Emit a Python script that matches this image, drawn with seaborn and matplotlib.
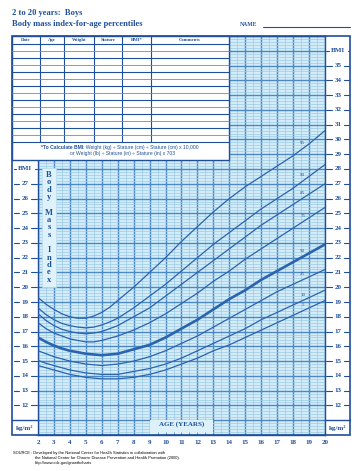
import numpy as np
import pandas as pd
import seaborn as sns
import matplotlib.pyplot as plt
from matplotlib.patches import Rectangle
from matplotlib.ticker import MultipleLocator
from matplotlib.transforms import blended_transform_factory

# CDC BMI-for-age, boys
ages = [2, 2.5, 3, 3.5, 4, 4.5, 5, 5.5, 6, 6.5, 7, 7.5, 8, 9, 10, 11, 12, 13, 14, 15, 16, 17, 18, 19, 20]
p5 = [14.7, 14.55, 14.4, 14.25, 14.1, 14.0, 13.9, 13.85, 13.8, 13.8, 13.8, 13.85, 13.9,
      14.1, 14.4, 14.8, 15.2, 15.7, 16.1, 16.6, 17.1, 17.6, 18.1, 18.6, 19.1]
p10 = [15.05, 14.85, 14.7, 14.55, 14.4, 14.3, 14.2, 14.15, 14.1, 14.1, 14.1, 14.2, 14.3,
       14.5, 14.8, 15.2, 15.7, 16.2, 16.7, 17.2, 17.8, 18.3, 18.8, 19.3, 19.8]
p25 = [15.7, 15.5, 15.3, 15.15, 15.0, 14.9, 14.8, 14.75, 14.7, 14.75, 14.8, 14.9, 15.0,
       15.3, 15.7, 16.2, 16.7, 17.3, 17.9, 18.5, 19.1, 19.7, 20.2, 20.7, 21.2]
p50 = [16.6, 16.3, 16.05, 15.85, 15.7, 15.6, 15.5, 15.45, 15.4, 15.45, 15.5, 15.65, 15.8,
       16.1, 16.6, 17.2, 17.8, 18.5, 19.2, 19.8, 20.5, 21.1, 21.7, 22.3, 22.9]
p75 = [17.6, 17.2, 16.9, 16.7, 16.5, 16.4, 16.3, 16.3, 16.4, 16.55, 16.7, 16.9, 17.1,
       17.6, 18.2, 18.9, 19.6, 20.4, 21.1, 21.9, 22.6, 23.3, 24.0, 24.7, 25.4]
p85 = [18.2, 17.75, 17.4, 17.15, 17.0, 16.9, 16.85, 16.9, 17.0, 17.2, 17.4, 17.7, 18.0,
       18.6, 19.4, 20.2, 21.0, 21.8, 22.6, 23.4, 24.2, 24.9, 25.6, 26.3, 27.0]
p90 = [18.6, 18.15, 17.8, 17.55, 17.4, 17.3, 17.25, 17.3, 17.45, 17.65, 17.9, 18.25, 18.6,
       19.4, 20.2, 21.1, 22.0, 22.9, 23.7, 24.5, 25.3, 26.0, 26.7, 27.5, 28.3]
p95 = [19.3, 18.85, 18.5, 18.2, 18.0, 17.9, 17.9, 18.05, 18.3, 18.65, 19.1, 19.55, 20.0,
       21.0, 22.0, 23.1, 24.1, 25.1, 26.0, 26.8, 27.5, 28.2, 28.9, 29.7, 30.6]
pct_names = ['5', '10', '25', '50', '75', '85', '90', '95']
year_ticks = list(range(2, 21))
left_labels = list(range(12, 28))
right_labels = list(range(12, 36))
table_cols = ['Date', 'Age', 'Weight', 'Stature', 'BMI*', 'Comments']

BLUE = '#1f4f9a'
LINE = '#2a64ae'
BG = '#d3ecf7'
MAJOR = '#4a88c6'
MINOR = '#9ccbe8'
SERIF = 'Liberation Serif'
SANS = 'Liberation Sans'

sns.set_style('white')
plt.rcParams['font.family'] = ['Liberation Serif', 'DejaVu Sans']

W, H = 363, 471
fig = plt.figure(figsize=(W / 100, H / 100), dpi=100)
fig.patch.set_facecolor('white')


def frac(x0, y0, x1, y1):
    return [x0 / W, 1 - y1 / H, (x1 - x0) / W, (y1 - y0) / H]


# grid chart
ax = fig.add_axes(frac(38, 36, 325, 435))
ax.set_facecolor(BG)
ax.set_xlim(2, 20)
ax.set_ylim(10, 37)
ax.xaxis.set_major_locator(MultipleLocator(1))
ax.xaxis.set_minor_locator(MultipleLocator(0.5))
ax.yaxis.set_major_locator(MultipleLocator(1))
ax.yaxis.set_minor_locator(MultipleLocator(0.2))
ax.set_axisbelow(True)

series = [p5, p10, p25, p50, p75, p85, p90, p95]
df = pd.DataFrame({'age': ages * len(series),
                   'bmi': sum(series, []),
                   'pct': [n for n in pct_names for _ in ages]})
for name in pct_names:
    sub = df[df['pct'] == name]
    sns.lineplot(data=sub, x='age', y='bmi', ax=ax, color=LINE,
                 lw=1.9 if name == '50' else 0.9, legend=False, zorder=3)
    yl = np.interp(18.6, ages, sub['bmi'].values)
    ax.text(18.6, yl + 0.25, name, fontsize=3.6, color=BLUE, ha='center', va='bottom', zorder=4)

ax.grid(which='minor', color=MINOR, lw=0.5)
ax.grid(which='major', color=MAJOR, lw=1.0)
ax.tick_params(which='both', length=0)
ax.set_xticks(year_ticks)
ax.set_xticklabels([str(a) for a in year_ticks], fontfamily=SERIF, fontweight='bold', fontsize=5, color=BLUE)
ax.tick_params(axis='x', pad=3.8)
ax.set_yticklabels([])
ax.set_xlabel('')
ax.set_ylabel('')
for sp in ax.spines.values():
    sp.set_color(BLUE)
    sp.set_linewidth(1.0)

# Body Mass Index box
ax.add_patch(Rectangle((2.25, 20.0), 0.88, 8.1, fc='#dff2fa', ec='#b8dcef', lw=0.5, zorder=2))
letters = [('B', 27.6), ('o', 27.1), ('d', 26.6), ('y', 26.1),
           ('M', 25.05), ('a', 24.55), ('s', 24.05), ('s', 23.55),
           ('I', 22.5), ('n', 22.0), ('d', 21.5), ('e', 21.0), ('x', 20.5)]
for ch, yy in letters:
    ax.text(2.69, yy, ch, fontsize=6, fontweight='bold', color=BLUE, ha='center', va='center', zorder=3)

# AGE box
ax.add_patch(Rectangle((9, 10), 4, 1, fc='#dcf1fa', ec='none', zorder=2))
ax.vlines(np.arange(9.5, 13, 0.5), 10, 10.22, color=MAJOR, lw=0.6, zorder=3)
ax.text(11, 10.72, 'AGE (YEARS)', fontsize=5, fontweight='bold', color=BLUE, ha='center', va='center', zorder=3)

# overlay in pixel coordinates
ov = fig.add_axes([0, 0, 1, 1], zorder=5)
ov.set_xlim(0, W)
ov.set_ylim(H, 0)
ov.axis('off')
ov.patch.set_alpha(0)
tr = blended_transform_factory(ov.transData, ax.transData)

# table
ov.add_patch(Rectangle((12, 36), 217, 124, fc='white', ec=BLUE, lw=1.0))
col_x = [12, 40, 64, 94, 122, 151, 229]
for x in col_x[1:-1]:
    ov.plot([x, x], [36, 142], color=BLUE, lw=0.8)
rows = np.arange(44, 143, 7)
for i, y in enumerate(rows):
    ov.plot([12, 229], [y, y], color=BLUE if i % 2 == 0 else '#5b93cc', lw=0.8 if i % 2 == 0 else 0.6)
for i, name in enumerate(table_cols):
    ov.text((col_x[i] + col_x[i + 1]) / 2, 40.2, name, fontsize=3.4, fontweight='bold',
            color=BLUE, ha='center', va='center')
bold_part = ov.text(41, 147.5, '*To Calculate BMI', fontsize=3.6, fontfamily=SANS, fontweight='bold',
                    color=BLUE, ha='left', va='center')
ov.annotate(': Weight (kg) ÷ Stature (cm) ÷ Stature (cm) x 10,000', xy=(1, 0.5), xycoords=bold_part,
            fontsize=3.6, fontfamily=SANS, color=BLUE, ha='left', va='center')
ov.text(122, 154, 'or Weight (lb) ÷ Stature (in) ÷ Stature (in) x 703',
        fontsize=3.6, fontfamily=SANS, color=BLUE, ha='center', va='center')

# outer border and side columns
ov.add_patch(Rectangle((12, 36), 338, 399, fc='none', ec=BLUE, lw=1.2))
ov.plot([12, 38], [11, 11], color=BLUE, lw=1.0, transform=tr)
ov.plot([325, 350], [11, 11], color=BLUE, lw=1.0, transform=tr)

for v in left_labels:
    ov.text(25, v, str(v), fontsize=5, fontweight='bold', color=BLUE, ha='center', va='center', transform=tr)
    ov.plot([13.5, 19], [v, v], color=BLUE, lw=0.8, transform=tr)
    ov.plot([31, 37], [v, v], color=BLUE, lw=0.8, transform=tr)
ov.text(25, 28, 'BMI', fontsize=5, fontweight='bold', color=BLUE, ha='center', va='center', transform=tr)
ov.plot([13.5, 15.5], [28, 28], color=BLUE, lw=0.8, transform=tr)
ov.plot([34.5, 37], [28, 28], color=BLUE, lw=0.8, transform=tr)
for v in right_labels:
    ov.text(338, v, str(v), fontsize=5, fontweight='bold', color=BLUE, ha='center', va='center', transform=tr)
    ov.plot([326, 332], [v, v], color=BLUE, lw=0.8, transform=tr)
    ov.plot([344, 349], [v, v], color=BLUE, lw=0.8, transform=tr)
ov.text(338, 36, 'BMI', fontsize=5, fontweight='bold', color=BLUE, ha='center', va='center', transform=tr)
ov.plot([326, 328.5], [36, 36], color=BLUE, lw=0.8, transform=tr)
ov.plot([347.5, 349], [36, 36], color=BLUE, lw=0.8, transform=tr)
ov.text(25, 10.5, 'kg/m²', fontsize=5, fontweight='bold', color=BLUE, ha='center', va='center', transform=tr)
ov.text(338, 10.5, 'kg/m²', fontsize=5, fontweight='bold', color=BLUE, ha='center', va='center', transform=tr)

# titles
ov.text(12, 13, '2 to 20 years:  Boys', fontsize=6.1, fontweight='bold', color=BLUE, ha='left', va='center')
ov.text(12, 24, 'Body mass index-for-age percentiles', fontsize=6.1, fontweight='bold', color=BLUE,
        ha='left', va='center')
ov.text(240, 24.5, 'NAME', fontsize=4.1, fontweight='bold', color=BLUE, ha='left', va='center')
ov.plot([263, 350], [27, 27], color=BLUE, lw=0.8)

# source
ov.text(13, 453, 'SOURCE : Developed by the National Center for Health Statistics in collaboration with',
        fontsize=2.9, fontfamily=SANS, color='black', ha='left', va='center')
ov.text(35, 458, 'the National Center for Chronic Disease Prevention and Health Promotion (2000).',
        fontsize=2.9, fontfamily=SANS, color='black', ha='left', va='center')
ov.text(35, 463, 'http://www.cdc.gov/growthcharts',
        fontsize=2.9, fontfamily=SANS, color='black', ha='left', va='center')

fig.savefig('out.png', dpi=100)
